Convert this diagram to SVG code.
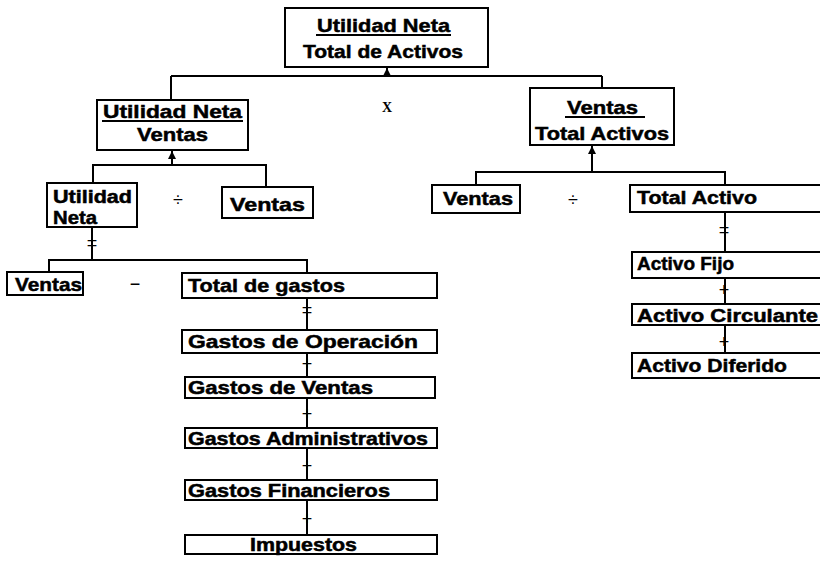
<svg xmlns="http://www.w3.org/2000/svg" width="820" height="564" viewBox="0 0 820 564">
<defs>
<style>
.box{fill:#fff;stroke:#000;stroke-width:2}
.t{font-family:"Liberation Sans",Arial,sans-serif;font-weight:bold;font-size:19px;fill:#000;stroke:#000;stroke-width:0.5}
.s{font-size:18px}
.c{text-anchor:middle}
.ul{stroke:#000;stroke-width:2}
.ln{stroke:#000;stroke-width:2;fill:none}
.op{font-family:"Liberation Sans",Arial,sans-serif;font-size:18px;fill:#000;text-anchor:middle}
</style>
<marker id="ah" viewBox="0 0 8 8" refX="8" refY="4" markerWidth="8" markerHeight="8" markerUnits="userSpaceOnUse" orient="auto">
<path d="M0,0 L8,4 L0,8 Z" fill="#000"/>
</marker>
</defs>
<rect width="820" height="564" fill="#fff"/>

<g id="connectors">
<path class="ln" d="M171,76 H602 M171,76 V100 M602,76 V88"/>
<path class="ln" d="M387,76 V68" marker-end="url(#ah)"/>
<path class="ln" d="M172,165 V151" marker-end="url(#ah)"/>
<path class="ln" d="M93,183 V165 H266 V187"/>
<path class="ln" d="M592,172 V146" marker-end="url(#ah)"/>
<path class="ln" d="M476,185 V172 H725 V185"/>
<path class="ln" d="M92,227 V260 M49,272 V260 H307 V273"/>
<path class="ln" d="M307,298 V330 M307,353 V377 M307,398 V428 M307,448 V480 M307,500 V535"/>
<path class="ln" d="M725,212 V252 M725,278 V304 M725,325 V353"/>
<text class="op" x="92" y="249">=</text>
<text class="op" x="307" y="316">=</text>
<text class="op" x="307" y="370">+</text>
<text class="op" x="307" y="420">+</text>
<text class="op" x="307" y="472">+</text>
<text class="op" x="307" y="525">+</text>
<text class="op" x="724" y="236">=</text>
<text class="op" x="724" y="296">+</text>
<text class="op" x="724" y="348">+</text>
<text class="op" x="387" y="112" style="font-weight:bold;font-size:14px;font-family:'Liberation Serif',serif">X</text>
<text class="op" x="178" y="206">÷</text>
<text class="op" x="573" y="206">÷</text>
<text class="op" x="135" y="290">−</text>
</g>

<g id="n-root">
<rect class="box" x="285" y="8" width="203" height="59"/>
<text class="t" x="317" y="32" textLength="133" lengthAdjust="spacingAndGlyphs">Utilidad Neta</text>
<line class="ul" x1="316" y1="35" x2="451" y2="35"/>
<text class="t" x="303" y="58" textLength="160" lengthAdjust="spacingAndGlyphs">Total de Activos</text>
</g>

<g id="n-margen">
<rect class="box" x="97" y="100" width="151" height="50"/>
<text class="t" x="103" y="118" textLength="139" lengthAdjust="spacingAndGlyphs">Utilidad Neta</text>
<line class="ul" x1="102" y1="121" x2="243" y2="121"/>
<text class="t" x="137" y="141" textLength="71" lengthAdjust="spacingAndGlyphs">Ventas</text>
</g>

<g id="n-rotacion">
<rect class="box" x="530" y="88" width="144" height="57"/>
<text class="t" x="567" y="114" textLength="71" lengthAdjust="spacingAndGlyphs">Ventas</text>
<line class="ul" x1="565" y1="117" x2="645" y2="117"/>
<text class="t" x="535" y="140" textLength="134" lengthAdjust="spacingAndGlyphs">Total Activos</text>
</g>

<g id="n-utilidad">
<rect class="box" x="47" y="183" width="90" height="44"/>
<text class="t s" x="53" y="203" textLength="79" lengthAdjust="spacingAndGlyphs">Utilidad</text>
<text class="t s" x="53" y="224" textLength="44" lengthAdjust="spacingAndGlyphs">Neta</text>
</g>

<g id="n-ventas1">
<rect class="box" x="222" y="187" width="91" height="31"/>
<text class="t" x="230" y="211" textLength="75" lengthAdjust="spacingAndGlyphs">Ventas</text>
</g>

<g id="n-ventas2">
<rect class="box" x="432" y="185" width="88" height="28"/>
<text class="t" x="443" y="205" textLength="70" lengthAdjust="spacingAndGlyphs">Ventas</text>
</g>

<g id="n-totalactivo">
<rect class="box" x="630" y="185" width="195" height="27"/>
<text class="t" x="637" y="204" textLength="120" lengthAdjust="spacingAndGlyphs">Total Activo</text>
</g>

<g id="n-ventas3">
<rect class="box" x="7" y="272" width="76" height="23"/>
<text class="t" x="15" y="291" textLength="67" lengthAdjust="spacingAndGlyphs">Ventas</text>
</g>

<g id="n-totalgastos">
<rect class="box" x="182" y="273" width="255" height="25"/>
<text class="t" x="188" y="292" textLength="157" lengthAdjust="spacingAndGlyphs">Total de gastos</text>
</g>

<g id="n-operacion">
<rect class="box" x="182" y="330" width="255" height="23"/>
<text class="t" x="188" y="348" textLength="230" lengthAdjust="spacingAndGlyphs">Gastos de Operación</text>
</g>

<g id="n-gventas">
<rect class="box" x="185" y="377" width="250" height="21"/>
<text class="t s" x="188" y="394" textLength="185" lengthAdjust="spacingAndGlyphs">Gastos de Ventas</text>
</g>

<g id="n-admin">
<rect class="box" x="185" y="428" width="252" height="20"/>
<text class="t s" x="188" y="445" textLength="240" lengthAdjust="spacingAndGlyphs">Gastos Administrativos</text>
</g>

<g id="n-financieros">
<rect class="box" x="185" y="480" width="252" height="20"/>
<text class="t s" x="188" y="497" textLength="202" lengthAdjust="spacingAndGlyphs">Gastos Financieros</text>
</g>

<g id="n-impuestos">
<rect class="box" x="185" y="535" width="252" height="19"/>
<text class="t s" x="250" y="551" textLength="107" lengthAdjust="spacingAndGlyphs">Impuestos</text>
</g>

<g id="n-fijo">
<rect class="box" x="632" y="252" width="193" height="26"/>
<text class="t" x="637" y="270" textLength="97" lengthAdjust="spacingAndGlyphs">Activo Fijo</text>
</g>

<g id="n-circulante">
<rect class="box" x="632" y="304" width="193" height="21"/>
<text class="t s" x="637" y="322" textLength="181" lengthAdjust="spacingAndGlyphs">Activo Circulante</text>
</g>

<g id="n-diferido">
<rect class="box" x="632" y="353" width="193" height="25"/>
<text class="t" x="637" y="372" textLength="150" lengthAdjust="spacingAndGlyphs">Activo Diferido</text>
</g>
</svg>
